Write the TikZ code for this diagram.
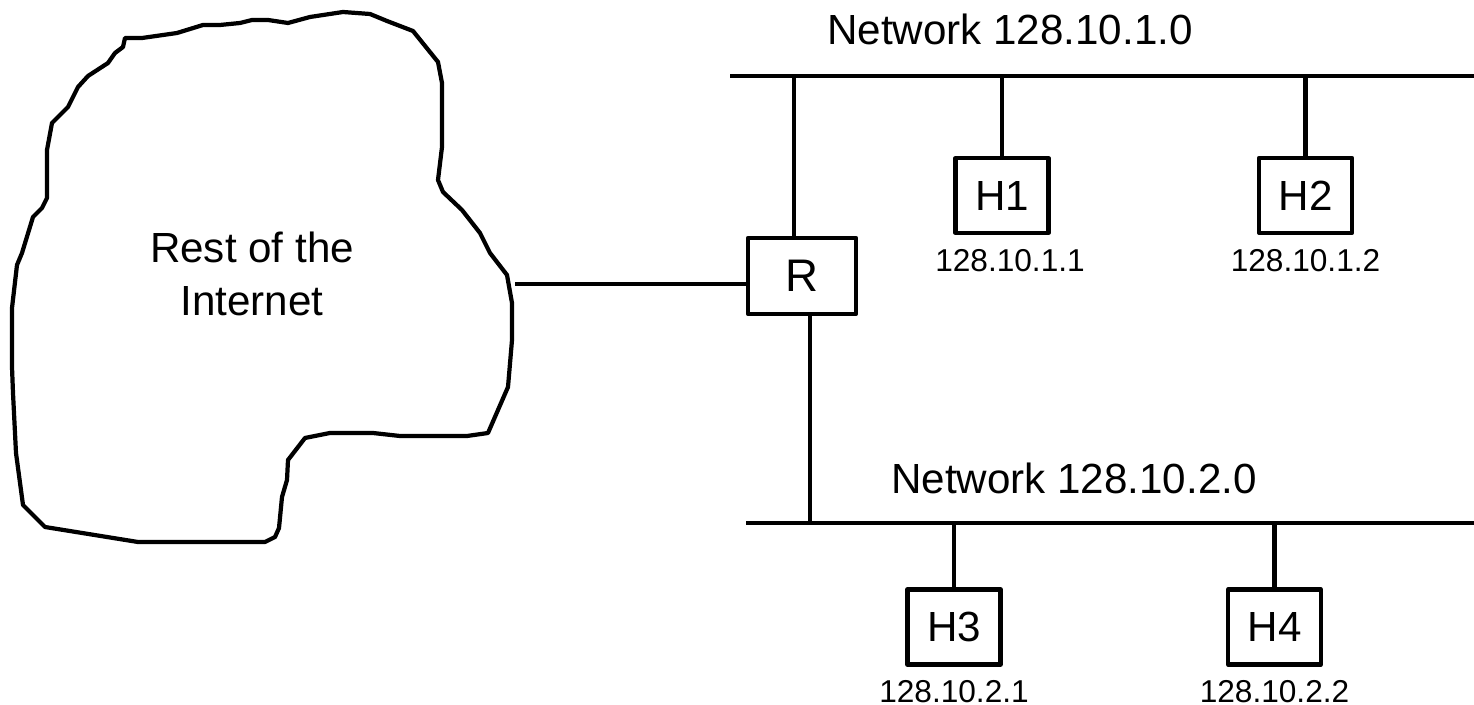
\documentclass[tikz,border=0pt]{standalone}
\usepackage{fontspec}
\setmainfont{Liberation Sans}
\usetikzlibrary{positioning,calc}

\tikzset{
  box/.style={draw,line width=2.4pt,minimum width=1.86cm,minimum height=1.5cm,inner sep=0pt,font=\fontsize{24}{30}\selectfont},
  addr/.style={font=\fontsize{18}{21}\selectfont,inner sep=0pt},
  netname/.style={font=\fontsize{24}{30}\selectfont,inner sep=0pt}
}

\begin{document}
\begin{tikzpicture}[x=0.02cm,y=-0.02cm,line width=2.4pt,line join=round]
  \useasboundingbox (0,0) rectangle (1474,705); % 画像と同じ大きさの枠
  \draw (125,38) -- (142,38) -- (177,33) -- (203,25) -- (220,25) -- (240,23) -- (252,20) -- (268,20)
    -- (288,23) -- (310,17) -- (343,12) -- (370,14) -- (387,21) -- (413,31) -- (438,62) -- (442,83)
    -- (442,147) -- (438,180) -- (443,192) -- (462,210) -- (480,233) -- (490,253) -- (507,275)
    -- (512,303) -- (512,340) -- (508,387) -- (488,433) -- (467,436) -- (400,436) -- (373,433)
    -- (330,433) -- (305,438) -- (288,460) -- (287,480) -- (282,497) -- (279,528) -- (275,537)
    -- (265,542) -- (138,542) -- (45,527) -- (23,505) -- (16,453) -- (13,393) -- (12,367)
    -- (12,308) -- (17,265) -- (22,253) -- (33,217) -- (42,208) -- (47,198) -- (47,150)
    -- (52,123) -- (68,107) -- (78,87) -- (88,76) -- (108,63) -- (115,53) -- (123,47) -- cycle; % インターネットの雲（手書き風の多角形）
  \node[netname,align=center] (inet) at (252,274) {Rest of the\\Internet}; % 雲の中の文字

  \node[box,minimum width=2.16cm,minimum height=1.52cm,font=\fontsize{26}{30}\selectfont] (R) at (802,276) {R}; % ルータ
  \node[box] (H1) at (1002,195.5) {H1};
  \node[box] (H2) at (1305.5,195.5) {H2};
  \node[box] (H3) at (954,627) {H3};
  \node[box] (H4) at (1274.5,627) {H4};

  \node[addr,below=0.24cm of H1,xshift=0.16cm] (a1) {128.10.1.1};
  \node[addr,below=0.24cm of H2] (a2) {128.10.1.2};
  \node[addr,below=0.24cm of H3] (a3) {128.10.2.1};
  \node[addr,below=0.24cm of H4] (a4) {128.10.2.2};

  \coordinate (busAl) at (730,76); % 上側のネットワークの左端
  \coordinate (busAr) at (1474,76);
  \coordinate (busBl) at (746,523); % 下側のネットワークの左端
  \coordinate (busBr) at (1474,523);
  \draw (busAl) -- (busAr); % 128.10.1.0 の線
  \draw (busBl) -- (busBr); % 128.10.2.0 の線
  \node[netname] (netA) at (1010,29) {Network 128.10.1.0};
  \node[netname] (netB) at (1074,478) {Network 128.10.2.0};

  \coordinate (cl) at (515,284); % 雲側の端
  \draw (cl) -- (cl -| R.west);
  \coordinate (rA) at (794,76);
  \coordinate (rB) at (810,523);
  \draw (rA) -- (rA |- R.north); % ルータから上のネットワークへ（中心から少し左）
  \draw (rB) -- (rB |- R.south); % ルータから下のネットワークへ（中心から少し右）
  \draw (H1.north) -- (H1.north |- busAl);
  \draw (H2.north) -- (H2.north |- busAl);
  \draw (H3.north) -- (H3.north |- busBl);
  \draw (H4.north) -- (H4.north |- busBl);
\end{tikzpicture}
\end{document}
